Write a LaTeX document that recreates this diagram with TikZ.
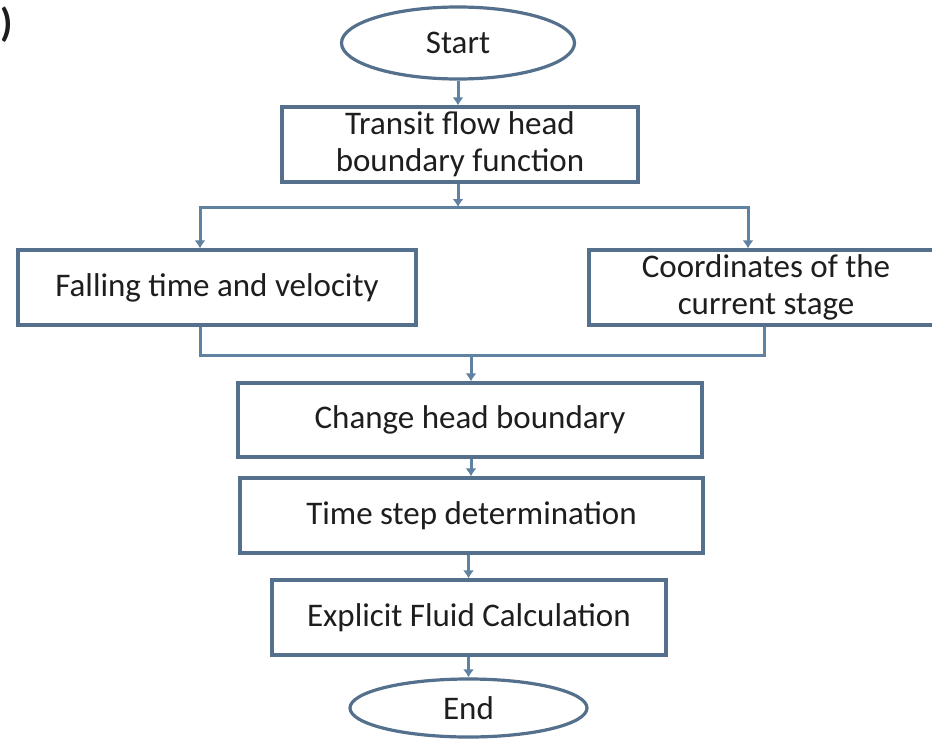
\documentclass[tikz,border=0pt]{standalone}
\usepackage{fontspec}
\setmainfont{Carlito}
\usetikzlibrary{shapes.geometric,arrows.meta}
\definecolor{boxline}{RGB}{84,112,140}
\definecolor{conline}{RGB}{96,130,162}
\definecolor{txt}{RGB}{30,30,30}
\tikzset{
  base/.style={draw=boxline, line width=3.2pt, fill=white, text=txt, inner sep=0pt,
    font=\fontsize{33}{37}\selectfont, align=center},
  procbox/.style={base, rectangle},
  termbox/.style={base, ellipse},
  conn/.style={draw=conline, line width=3pt},
  arr/.style={conn, -{Latex[length=8pt,width=11pt]}},
}
\begin{document}
\begin{tikzpicture}[x=1pt,y=-1pt]
\useasboundingbox (0,0) rectangle (932,739);
\fill[white] (0,0) rectangle (932,739);

\node[anchor=west, inner sep=0pt, text=txt, font=\fontsize{40}{40}\selectfont\bfseries] (paren) at (0,25) {)};

\node[termbox, minimum width=233pt, minimum height=72pt] (start) at (458,43) {Start};
\node[procbox, minimum width=356pt, minimum height=75pt] (transit) at (460,144.5) {Transit flow head\\boundary function};
\node[procbox, minimum width=398pt, minimum height=75pt] (fall) at (217,287.5) {Falling time and velocity};
\node[procbox, minimum width=354pt, minimum height=75pt] (coord) at (766,287.5) {Coordinates of the\\current stage};
\node[procbox, minimum width=464pt, minimum height=74pt] (change) at (470,420) {Change head boundary};
\node[procbox, minimum width=463pt, minimum height=75pt] (tstep) at (471.5,515.5) {Time step determination};
\node[procbox, minimum width=394pt, minimum height=75pt] (expl) at (469,617.5) {Explicit Fluid Calculation};
\node[termbox, minimum width=237pt, minimum height=58pt] (endn) at (468.5,708) {End};

\coordinate (jt) at (458,207);
\coordinate (lx) at (200,0);
\coordinate (rx) at (748,0);
\coordinate (rbx) at (764,0);
\coordinate (jb) at (471,355);

\draw[arr] (start.south) -- (start.south |- transit.north);
\draw[arr] (transit.south -| jt) -- (jt);
\draw[arr] (jt) -| (fall.north -| lx);
\draw[arr] (jt) -| (coord.north -| rx);
\draw[conn] (fall.south -| lx) |- (jb);
\draw[conn] (coord.south -| rbx) |- (jb);
\draw[arr] (jb) -- (jb |- change.north);
\draw[arr] (change.south -| jb) -- (jb |- tstep.north);
\draw[arr] (tstep.south -| endn) -- (endn |- expl.north);
\draw[arr] (expl.south -| endn) -- (endn.north);
\end{tikzpicture}
\end{document}
